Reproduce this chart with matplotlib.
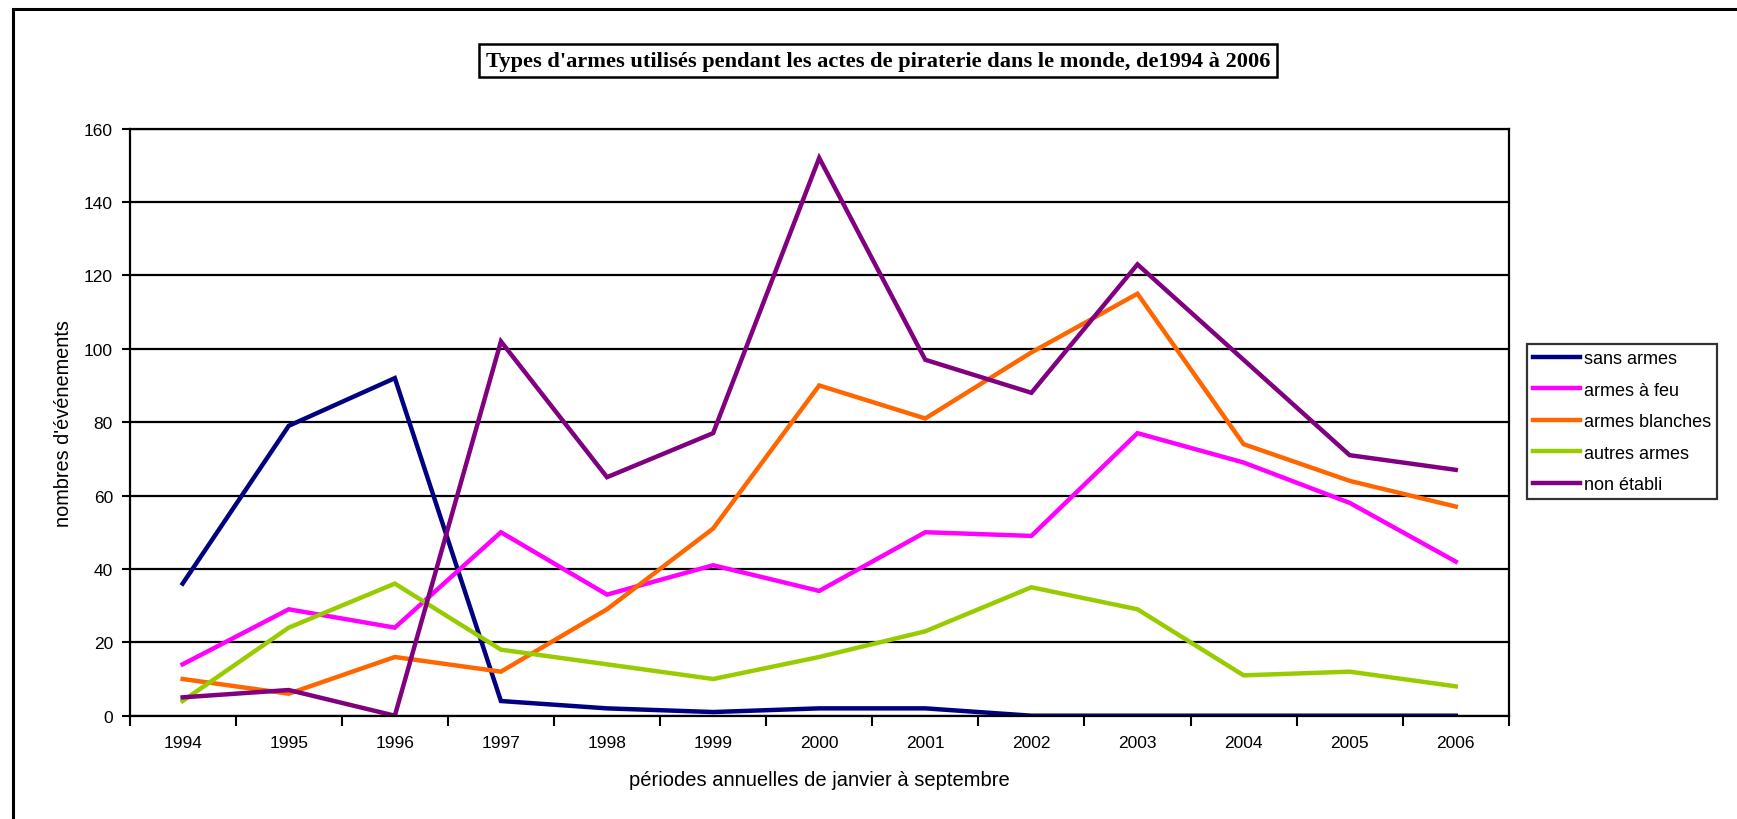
import numpy as np
import matplotlib
matplotlib.use('Agg')
import matplotlib.pyplot as plt
from matplotlib.patches import Rectangle

# data
years=		['1994', '1995', '1996', '1997', '1998', '1999', '2000', '2001', '2002', '2003', '2004', '2005', '2006']
sans_armes=	[36, 79, 92, 4, 2, 1, 2, 2, 0, 0, 0, 0, 0]
armes_feu=	[14, 29, 24, 50, 33, 41, 34, 50, 49, 77, 69, 58, 42]
armes_blanches=	[10, 6, 16, 12, 29, 51, 90, 81, 99, 115, 74, 64, 57]
autres_armes=	[4, 24, 36, 18, 14, 10, 16, 23, 35, 29, 11, 12, 8]
non_etabli=	[5, 7, 0, 102, 65, 77, 152, 97, 88, 123, 97, 71, 67]

series= [
	('sans armes',		sans_armes,	'#000080'),
	('armes à feu',		armes_feu,	'#FF00FF'),
	('armes blanches',	armes_blanches,	'#FF6600'),
	('autres armes',	autres_armes,	'#99CC00'),
	('non établi',		non_etabli,	'#800080'),
]

plt.rcParams['font.family']= ['Liberation Sans', 'DejaVu Sans']

W, H= 1737, 820
fig= plt.figure(figsize=(W/100, H/100), dpi=100)

# outer frame (runs off the right and bottom edges)
fig.patches.append(Rectangle((13/W, -0.1), 1.2, 1-10/H+0.1, transform=fig.transFigure,
	fill=False, edgecolor='black', linewidth=2.2))

ax= fig.add_axes([129.6/W, 1-716.7/H, (1508.8-129.6)/W, (716.7-129.6)/H])
x= np.arange(len(years))
for name, vals, col in series:
	ax.plot(x, vals, color=col, linewidth=3.2, label=name, solid_joinstyle='miter')

ax.set_xlim(-0.5, len(years)-0.5)
ax.set_ylim(0, 160)
ax.set_yticks(range(0, 161, 20))
ax.set_xticks(x)
ax.set_xticklabels(years)
ax.set_xticks(np.arange(-0.5, len(years), 1), minor=True)
ax.tick_params(axis='x', which='major', length=0, pad=14, labelsize=12.5)
ax.tick_params(axis='x', which='minor', length=7, width=1.5, direction='out')
ax.tick_params(axis='y', length=6, width=1.5, direction='out', labelsize=12.5, pad=6)
ax.yaxis.grid(True, color='black', linewidth=1.6)
ax.set_axisbelow(True)
for s in ax.spines.values():
	s.set_linewidth(1.6)

ax.set_xlabel('périodes annuelles de janvier à septembre', fontsize=14.5)
ax.xaxis.set_label_coords(0.5, -0.108)
ax.xaxis.label.set_va('center')
ax.set_ylabel("nombres d'événements", fontsize=14.3)
ax.yaxis.set_label_coords(-0.048, 0.5)
ax.yaxis.label.set_va('center')

fig.text(878/W, 1-61.5/H, "Types d'armes utilisés pendant les actes de piraterie dans le monde, de1994 à 2006",
	ha='center', va='center', fontsize=16.1, fontweight='bold', family=['Liberation Serif', 'DejaVu Serif'],
	bbox=dict(boxstyle='square,pad=0.3', facecolor='white', edgecolor='black', linewidth=1.8))

leg= ax.legend(loc='upper left', bbox_to_anchor=(1527/W, 1-345/H), bbox_transform=fig.transFigure,
	fontsize=13, frameon=True, fancybox=False, handlelength=2.6, handletextpad=0.2,
	labelspacing=0.8, borderpad=0.35, borderaxespad=0)
leg.get_frame().set_edgecolor('black')
leg.get_frame().set_linewidth(1.6)

fig.savefig('out.png', dpi=100)
